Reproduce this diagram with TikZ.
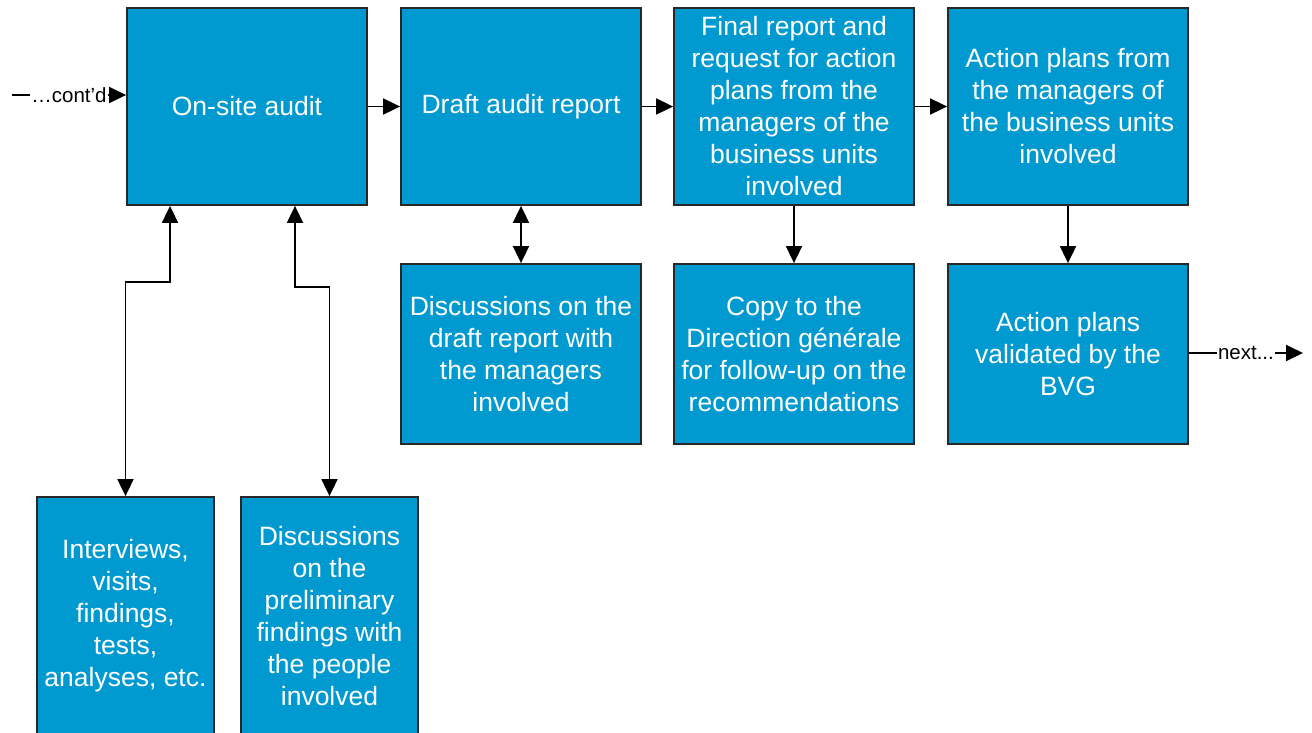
\documentclass[tikz,border=0pt]{standalone}
\usepackage{fontspec}
\setmainfont{Liberation Sans}
\usetikzlibrary{arrows.meta}
\definecolor{boxblue}{RGB}{0,153,208}
\definecolor{boxedge}{RGB}{40,40,40}
\tikzset{
  box/.style={rectangle, draw=boxedge, line width=1.8pt, fill=boxblue, text=white,
    align=center, inner sep=0pt, font=\fontsize{26.5}{32}\selectfont},
  tip/.style={Triangle[length=17pt,width=16pt]},
  conn/.style={line width=1.8pt, -{Triangle[length=17pt,width=16pt]}},
  dconn/.style={line width=1.8pt, {Triangle[length=17pt,width=16pt]}-{Triangle[length=17pt,width=16pt]}},
  lbl/.style={fill=white, inner sep=1pt, font=\fontsize{20.5}{24}\selectfont}
}
\begin{document}
\begin{tikzpicture}[x=1pt,y=-1pt]
\useasboundingbox (0,0) rectangle (1312,732);
\node[box, minimum width=240pt, minimum height=197pt] (A) at (247,106.5) {On-site audit};
\node[box, minimum width=240pt, minimum height=197pt] (B) at (521,106.5) {Draft audit report};
\node[box, minimum width=240pt, minimum height=197pt] (C) at (794,106.5) {Final report and\\request for action\\plans from the\\managers of the\\business units\\involved};
\node[box, minimum width=240pt, minimum height=197pt] (D) at (1068,106.5) {Action plans from\\the managers of\\the business units\\involved};
\node[box, minimum width=240pt, minimum height=180pt] (E) at (521,354) {Discussions on the\\draft report with\\the managers\\involved};
\node[box, minimum width=240pt, minimum height=180pt] (F) at (794,354) {Copy to the\\Direction générale\\for follow-up on the\\recommendations};
\node[box, minimum width=240pt, minimum height=180pt] (G) at (1068,354) {Action plans\\validated by the\\BVG};
\node[box, minimum width=177pt, minimum height=238pt] (H) at (125.5,616) {Interviews,\\visits,\\findings,\\tests,\\analyses, etc.};
\node[box, minimum width=177pt, minimum height=238pt] (I) at (329.5,616) {Discussions\\on the\\preliminary\\findings with\\the people\\involved};
% incoming / outgoing
\coordinate (cs) at (12,95);
\coordinate (ne) at (1303,353);
\draw[conn] (cs) -- node[lbl]{\ldots cont’d} (cs -| A.west);
\draw[conn] (G.east |- ne) -- node[lbl]{next...} (ne);
% main flow
\draw[conn] (A) -- (B);
\draw[conn] (B) -- (C);
\draw[conn] (C) -- (D);
\draw[dconn] (B) -- (E);
\draw[conn] (C) -- (F);
\draw[conn] (D) -- (G);
% elbows
\coordinate (h1) at (170,282);
\coordinate (h2) at (295,287);
\draw[dconn] (A.south -| h1) -- (h1) -| (H.north);
\draw[dconn] (A.south -| h2) -- (h2) -| (I.north);
\end{tikzpicture}
\end{document}
